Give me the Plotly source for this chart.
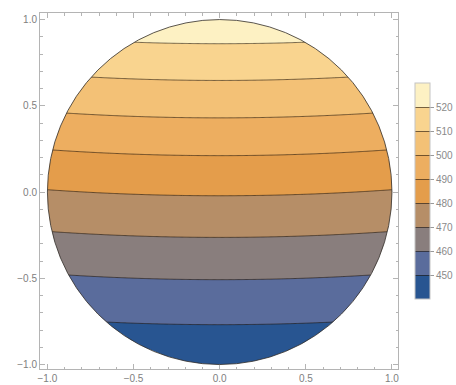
import numpy as np
import plotly.graph_objects as go

# Contour levels and where each one crosses the vertical centre line x = 0
levels = [441, 450, 460, 470, 480, 490, 500, 510, 520, 527]
center_y = [-1.0, -0.769, -0.508, -0.263, -0.0215, 0.211, 0.430, 0.647, 0.860, 1.0]
# Upward lift of every contour towards the rim (grows with x^2)
edge_lift = 0.035

# Band colours, lowest band (440-450) to highest (520-530)
band_colors = ["#285591", "#5a6c9c", "#897e7d", "#b68e67", "#e49d4b",
               "#edae60", "#f3c176", "#f9d48f", "#fdf1c3"]
level_ticks = [450, 460, 470, 480, 490, 500, 510, 520]
scale_min, scale_max = 440, 530

# Field sampled on a square grid; the disk is cut out afterwards
gx = np.linspace(-1.06, 1.06, 321)
gy = np.linspace(-1.06, 1.06, 321)
X, Y = np.meshgrid(gx, gy)
Z = np.interp(Y - edge_lift * X**2, center_y, levels)

# Stepped colour scale: in fill mode band k is coloured at fraction k/8
nb = len(band_colors)
colorscale = []
for k, c in enumerate(band_colors):
    lo = max(0.0, (k - 0.5) / (nb - 1))
    hi = min(1.0, (k + 0.5) / (nb - 1))
    colorscale.append([lo, c])
    colorscale.append([hi, c])

fig = go.Figure()
fig.add_trace(go.Contour(
    x=gx, y=gy, z=Z,
    zmin=scale_min, zmax=scale_max, zauto=False,
    colorscale=colorscale,
    contours=dict(start=450, end=520, size=10, coloring="fill"),
    line=dict(color="rgba(30,20,10,0.6)", width=1),
    colorbar=dict(
        thickness=15, len=216, lenmode="pixels",
        x=1.047, xanchor="left", xpad=0,
        y=0.5, yanchor="middle", ypad=0,
        outlinecolor="#c4c4c4", outlinewidth=1,
        tickvals=level_ticks, ticks="outside", ticklen=4,
        tickcolor="#9a9a9a",
        tickfont=dict(family="Liberation Sans", size=10, color="#8a8a8a"),
    ),
    hoverinfo="skip",
))

# White mask outside the unit disk (outer square CCW, inner circle CW)
t = np.linspace(0, -2 * np.pi, 361)
mx = [3, 3, -3, -3, 3, 3, 1] + list(np.cos(t)) + [3]
my = [0, 3, 3, -3, -3, 0, 0] + list(np.sin(t)) + [0]
fig.add_trace(go.Scatter(
    x=mx, y=my, mode="lines", fill="toself", fillcolor="white",
    line=dict(width=0, color="rgba(0,0,0,0)"),
    hoverinfo="skip", showlegend=False,
))

fig.add_shape(type="circle", xref="x", yref="y", x0=-1, y0=-1, x1=1, y1=1,
              line=dict(color="rgba(50,45,40,0.8)", width=1), layer="above")

axis_common = dict(
    showgrid=False, zeroline=False,
    showline=True, linecolor="#b4b4b4", linewidth=1, mirror="ticks",
    ticks="inside", ticklen=5, tickcolor="#b4b4b4",
    tickvals=[-1.0, -0.5, 0.0, 0.5, 1.0],
    ticktext=["\u22121.0", "\u22120.5", "0.0", "0.5", "1.0"],
    tickfont=dict(family="Liberation Sans", size=10, color="#808080"),
    minor=dict(dtick=0.1, tick0=0, ticks="inside", ticklen=2.5, tickcolor="#b4b4b4"),
)
fig.update_xaxes(range=[-1.043, 1.035], **axis_common)
fig.update_yaxes(range=[-1.026, 1.038], **axis_common)

fig.update_layout(
    width=456, height=385,
    margin=dict(l=40, r=58, t=13, b=16, autoexpand=False),
    paper_bgcolor="white", plot_bgcolor="white",
    showlegend=False,
)

fig.write_html("out.html")
